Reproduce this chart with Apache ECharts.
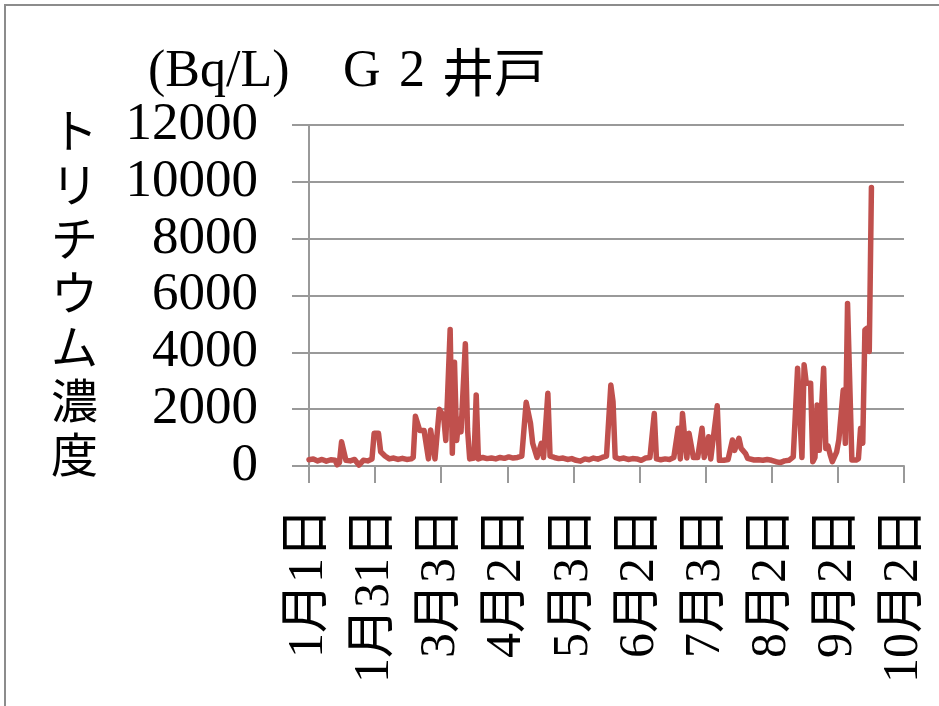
<!DOCTYPE html>
<html>
<head>
<meta charset="utf-8">
<script src="https://cdn.jsdelivr.net/npm/echarts@6/dist/echarts.min.js"></script>
<style>
html,body{margin:0;padding:0;background:#fff;}
#chart{width:939px;height:706px;}
</style>
</head>
<body>
<div id="chart"></div>
<script>
// ---- data ----
const tickLabels = ['1月1日','1月31日','3月3日','4月2日','5月3日','6月2日','7月3日','8月2日','9月2日','10月2日'];
const days = [0,2,4,6,8,10,12,13,14,15,17,19,21,23,25,27,29,30,32,33,35,37,39,41,43,45,47,48,49,51,53,55,56,58,60,62,63,65,66,67,68,69,70,72,73,74,76,77,78,80,82,84,86,88,90,92,94,96,98,100,102,103,105,107,108,110,111,113,115,117,119,121,123,125,127,129,131,133,135,137,139,140,141,143,145,147,149,151,153,155,157,159,160,162,164,166,168,170,171,172,173,174,175,177,179,181,182,184,185,188,189,191,193,195,196,198,199,201,202,205,207,209,211,213,215,217,219,221,223,225,227,228,229,231,232,233,234,235,237,238,239,240,241,243,244,246,247,248,250,252,253,254,255,256,257,258,259];
const tritium = [220,250,180,230,170,220,200,40,120,850,200,180,230,30,200,180,250,1150,1150,500,350,250,280,230,270,230,250,300,1750,1250,1250,250,1270,250,2000,1750,900,4800,450,3650,900,1650,1200,4300,1300,250,280,2500,250,300,260,280,250,300,270,320,280,300,350,2240,1500,800,300,800,300,2560,350,300,260,280,230,260,200,170,250,220,280,240,300,350,2850,2270,300,250,280,230,260,250,200,280,300,1850,250,220,250,230,300,1330,250,1850,1000,280,1150,300,300,1330,300,1030,250,2120,200,200,230,915,550,975,620,440,270,210,220,200,230,200,150,120,180,200,320,3440,300,3560,2910,2910,150,300,2150,550,3440,620,710,400,150,500,920,2670,800,5720,210,210,250,1330,800,4790,4850,4030,9800];
const yTicks = [0,2000,4000,6000,8000,10000,12000];
const titleParts = ['(Bq/L)','G','2','井戸'];
const yName = ['ト','リ','チ','ウ','ム','濃','度'];

const series1 = days.map((d,i)=>[d,tritium[i]]);
const dayMax = 274;
const step = dayMax/9;

const chart = echarts.init(document.getElementById('chart'), null, {renderer:'canvas'});
const serif = "'Liberation Serif','Noto Sans CJK JP',serif";
const gridColor = '#999999';
chart.setOption({
  animation:false,
  backgroundColor:'#ffffff',
  grid:{left:309,right:35,top:125,bottom:240,containLabel:false},
  xAxis:{
    type:'value',min:0,max:dayMax,interval:step,
    axisLine:{show:true,lineStyle:{color:gridColor,width:2}},
    axisTick:{show:true,inside:false,length:17,lineStyle:{color:gridColor,width:2}},
    splitLine:{show:false},
    axisLabel:{
      rotate:90,margin:42,fontSize:50,color:'#000',fontFamily:serif,
      formatter:function(v){const k=Math.round(v/step);return tickLabels[k]||'';}
    }
  },
  yAxis:{
    type:'value',min:yTicks[0],max:yTicks[yTicks.length-1],interval:yTicks[1]-yTicks[0],
    axisLine:{show:true,lineStyle:{color:gridColor,width:2}},
    axisTick:{show:true,inside:false,length:17,lineStyle:{color:gridColor,width:2}},
    splitLine:{show:true,lineStyle:{color:gridColor,width:2}},
    axisLabel:{margin:51,fontSize:53,color:'#000',fontFamily:serif,
      formatter:function(v){return String(v);}}
  },
  series:[{
    type:'line',data:series1,showSymbol:false,smooth:false,
    lineStyle:{color:'#C0504D',width:5.5,join:'round',cap:'round'},
    itemStyle:{color:'#C0504D'}
  }],
  graphic:[
    {type:'rect',silent:true,shape:{x:5,y:5,width:1200,height:1200},style:{fill:'none',stroke:'#8c8c8c',lineWidth:2}},
    {type:'text',left:148,top:46,style:{text:titleParts[0],font:"52px 'Liberation Serif'",fill:'#000'}},
    {type:'text',left:343,top:46,style:{text:titleParts[1],font:"52px 'Liberation Serif'",fill:'#000'}},
    {type:'text',left:399,top:46,style:{text:titleParts[2],font:"52px 'Liberation Serif'",fill:'#000'}},
    {type:'text',left:442,top:46,style:{text:titleParts[3],font:"52px 'Noto Sans CJK JP'",fill:'#000'}},
    {type:'text',left:51,top:103,style:{text:yName.join('\n'),font:"47px 'Noto Sans CJK JP'",lineHeight:54,fill:'#000',align:'center'}}
  ]
});
</script>
</body>
</html>
